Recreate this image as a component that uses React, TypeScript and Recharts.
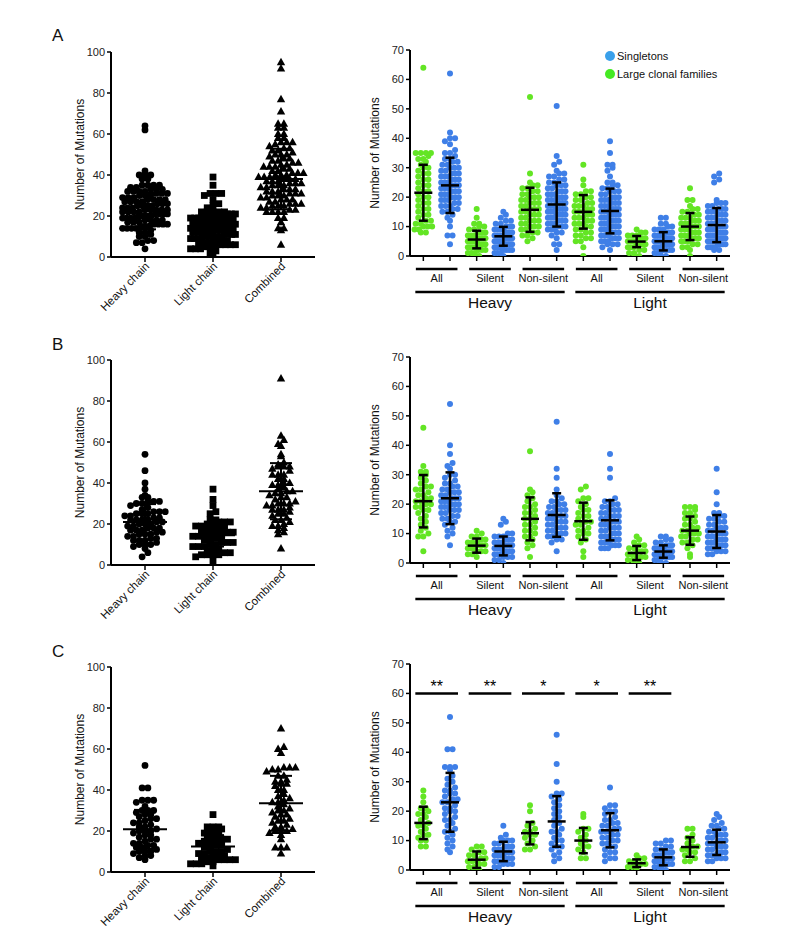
import React from 'react';
import { ScatterChart, Scatter, XAxis, YAxis, ReferenceLine, Legend } from 'recharts';

const FONT = '"Liberation Sans", Arial, Helvetica, sans-serif';
const GREEN = '#63e524';
const BLUE = '#3f7fe7';
const LEGEND_BLUE = '#3aa0ea';
const LEGEND_GREEN = '#45ea23';

// labels
const LEFT_CATEGORIES = ['Heavy chain', 'Light chain', 'Combined'];
const SUB_GROUPS = ['All', 'Silent', 'Non-silent', 'All', 'Silent', 'Non-silent'];
const CHAINS = ['Heavy', 'Light'];
const LEFT_TICKS = [0, 20, 40, 60, 80, 100];
const RIGHT_TICKS = [0, 10, 20, 30, 40, 50, 60, 70];
const SIG_LABELS_C = ['**', '**', '*', '*', '**'];
const SIG_LEVEL_C = 60;

// ---------- panel A, left (all sequences)
const heavyA = [4, 7, 7, 8, 8, 10, 10, 11, 12, 12, 13, 14, 14, 14, 14, 15, 15, 15, 16, 16, 16, 16, 17, 17, 17, 18, 18, 18, 18, 19, 19, 19, 19, 20, 20, 20, 20, 21, 21, 21, 21, 22, 22, 22, 22, 23, 23, 23, 23, 23, 24, 24, 24, 25, 25, 25, 25, 26, 26, 26, 27, 27, 27, 27, 28, 28, 28, 28, 29, 29, 29, 30, 30, 30, 31, 31, 31, 32, 32, 32, 32, 33, 33, 33, 34, 34, 35, 35, 35, 35, 38, 38, 40, 40, 40, 42, 62, 64];
const lightA = [0, 2, 3, 4, 4, 4, 5, 5, 5, 6, 6, 6, 6, 7, 7, 7, 8, 8, 8, 9, 9, 9, 9, 10, 10, 10, 10, 10, 11, 11, 11, 11, 12, 12, 12, 12, 13, 13, 13, 13, 14, 14, 14, 15, 15, 15, 15, 16, 16, 16, 16, 17, 17, 17, 17, 18, 18, 18, 18, 19, 19, 19, 19, 20, 20, 20, 20, 21, 21, 21, 21, 22, 22, 22, 22, 22, 24, 25, 26, 28, 30, 31, 31, 31, 35, 39];
const combinedA = [6, 13, 14, 14, 17, 19, 19, 22, 22, 22, 22, 23, 23, 24, 24, 25, 25, 25, 26, 26, 26, 27, 27, 28, 28, 28, 29, 29, 30, 30, 30, 31, 31, 31, 32, 32, 32, 33, 33, 33, 34, 34, 35, 35, 35, 36, 36, 36, 37, 37, 37, 38, 38, 38, 39, 39, 39, 40, 40, 40, 41, 41, 41, 42, 42, 43, 43, 44, 44, 44, 45, 45, 46, 46, 47, 47, 48, 48, 49, 50, 50, 50, 51, 52, 52, 53, 53, 54, 55, 56, 56, 56, 58, 58, 60, 60, 63, 63, 65, 65, 71, 77, 92, 95];
const leftMeansA = [22.5, 15, 38];
const leftSdsA = [9, 7, 14.8];

// ---------- panel B, left
const heavyB = [4, 6, 8, 9, 10, 10, 10, 11, 12, 12, 12, 13, 13, 14, 14, 15, 15, 15, 16, 16, 17, 17, 17, 18, 18, 18, 19, 19, 20, 20, 20, 21, 21, 22, 22, 22, 22, 23, 23, 24, 24, 25, 25, 25, 26, 26, 26, 27, 28, 29, 30, 30, 31, 31, 31, 33, 33, 34, 37, 40, 46, 54];
const lightB = [2, 4, 5, 5, 5, 5, 6, 6, 7, 8, 8, 9, 9, 9, 10, 10, 11, 11, 11, 12, 12, 13, 13, 14, 14, 14, 15, 15, 15, 16, 16, 17, 17, 17, 18, 18, 19, 19, 20, 20, 21, 21, 21, 22, 22, 25, 26, 29, 32, 37];
const combinedB = [8, 15, 16, 17, 18, 19, 19, 20, 21, 22, 22, 23, 24, 25, 25, 26, 27, 27, 27, 28, 29, 29, 30, 30, 30, 31, 32, 33, 33, 34, 35, 35, 36, 36, 37, 38, 39, 39, 40, 40, 42, 42, 44, 44, 44, 46, 47, 48, 48, 48, 49, 50, 53, 54, 58, 59, 61, 63, 91];
const leftMeansB = [21, 14.5, 36];
const leftSdsB = [8.7, 5.5, 13.7];

// ---------- panel C, left
const heavyC = [6, 7, 8, 8, 9, 10, 10, 10, 11, 12, 12, 13, 13, 14, 14, 15, 16, 16, 17, 18, 18, 19, 20, 20, 20, 21, 22, 22, 23, 24, 24, 25, 26, 26, 27, 28, 28, 29, 30, 30, 30, 32, 34, 35, 35, 35, 41, 41, 52];
const lightC = [3, 4, 4, 4, 5, 5, 6, 6, 6, 6, 7, 7, 8, 8, 8, 9, 9, 10, 10, 10, 11, 12, 12, 13, 13, 14, 15, 15, 16, 16, 16, 17, 18, 18, 19, 20, 20, 21, 22, 22, 22, 28];
const combinedC = [9, 12, 12, 12, 16, 18, 19, 20, 20, 20, 21, 22, 22, 23, 24, 25, 25, 26, 27, 28, 28, 29, 30, 30, 31, 32, 33, 34, 34, 35, 36, 37, 38, 40, 40, 42, 43, 43, 44, 44, 45, 47, 47, 49, 50, 50, 51, 51, 51, 58, 60, 61, 70];
const leftMeansC = [20.8, 12.5, 33.5];
const leftSdsC = [9.5, 5.5, 13.4];

// ---------- panel A, right (large clonal families vs singletons)
const largeA_HAll = [8, 8, 9, 9, 10, 10, 10, 11, 11, 12, 12, 13, 14, 14, 15, 16, 16, 17, 18, 18, 19, 20, 20, 21, 22, 22, 23, 24, 24, 25, 26, 26, 27, 28, 28, 29, 30, 30, 31, 32, 33, 33, 34, 35, 35, 35, 35, 64];
const singleA_HAll = [4, 7, 7, 10, 12, 13, 14, 15, 15, 16, 16, 17, 17, 17, 18, 18, 19, 19, 19, 20, 20, 20, 21, 21, 21, 22, 22, 22, 23, 23, 23, 24, 24, 24, 25, 25, 25, 26, 26, 26, 27, 27, 27, 28, 28, 28, 29, 29, 30, 30, 30, 31, 31, 32, 32, 33, 33, 34, 35, 35, 36, 38, 39, 40, 40, 42, 62];
const largeA_HSil = [0, 0, 1, 1, 1, 2, 2, 2, 3, 3, 3, 3, 4, 4, 4, 4, 5, 5, 5, 5, 5, 6, 6, 6, 6, 7, 7, 7, 8, 8, 8, 9, 9, 10, 10, 11, 11, 13, 16];
const singleA_HSil = [0, 1, 1, 1, 2, 2, 2, 2, 3, 3, 3, 3, 3, 4, 4, 4, 4, 4, 5, 5, 5, 5, 5, 6, 6, 6, 6, 6, 7, 7, 7, 7, 7, 8, 8, 8, 8, 9, 9, 9, 9, 10, 10, 10, 11, 11, 12, 12, 13, 14, 15];
const largeA_HNon = [5, 6, 7, 7, 8, 8, 9, 9, 10, 10, 10, 11, 11, 12, 12, 12, 13, 13, 14, 14, 14, 15, 15, 16, 16, 16, 17, 17, 18, 18, 18, 19, 19, 20, 20, 20, 21, 21, 22, 22, 23, 23, 24, 24, 25, 28, 54];
const singleA_HNon = [2, 4, 4, 6, 7, 8, 8, 9, 9, 9, 10, 10, 10, 11, 11, 11, 12, 12, 12, 13, 13, 13, 14, 14, 14, 14, 15, 15, 15, 16, 16, 16, 16, 17, 17, 17, 18, 18, 18, 18, 19, 19, 19, 20, 20, 20, 21, 21, 21, 22, 22, 22, 23, 23, 24, 24, 24, 25, 25, 26, 26, 27, 27, 28, 28, 29, 31, 32, 34, 51];
const largeA_LAll = [0, 3, 5, 5, 6, 6, 7, 7, 8, 8, 9, 9, 10, 10, 11, 11, 11, 12, 12, 13, 13, 13, 14, 14, 15, 15, 15, 16, 16, 17, 17, 17, 18, 18, 19, 19, 20, 20, 21, 21, 22, 22, 24, 26, 31];
const singleA_LAll = [2, 3, 4, 4, 4, 5, 5, 5, 6, 6, 6, 7, 7, 7, 8, 8, 8, 9, 9, 9, 10, 10, 10, 10, 11, 11, 11, 12, 12, 12, 12, 13, 13, 13, 14, 14, 14, 14, 15, 15, 15, 16, 16, 16, 16, 17, 17, 17, 18, 18, 18, 19, 19, 19, 20, 20, 20, 21, 21, 22, 22, 22, 23, 23, 24, 24, 25, 25, 27, 29, 30, 31, 31, 35, 39];
const largeA_LSil = [0, 0, 1, 1, 2, 2, 3, 3, 3, 4, 4, 4, 4, 5, 5, 5, 5, 6, 6, 6, 7, 7, 7, 8, 8, 9];
const singleA_LSil = [0, 0, 1, 1, 1, 2, 2, 2, 2, 3, 3, 3, 3, 4, 4, 4, 4, 4, 5, 5, 5, 5, 5, 6, 6, 6, 6, 7, 7, 7, 7, 8, 8, 8, 9, 9, 9, 10, 10, 11, 11, 13, 13];
const largeA_LNon = [0, 2, 3, 3, 4, 4, 5, 5, 5, 6, 6, 6, 7, 7, 7, 8, 8, 8, 9, 9, 9, 10, 10, 10, 11, 11, 11, 12, 12, 12, 13, 13, 13, 14, 14, 15, 15, 16, 16, 17, 19, 19, 23];
const singleA_LNon = [2, 2, 3, 3, 3, 3, 4, 4, 4, 4, 5, 5, 5, 5, 6, 6, 6, 6, 7, 7, 7, 7, 8, 8, 8, 8, 9, 9, 9, 9, 10, 10, 10, 10, 11, 11, 11, 12, 12, 12, 13, 13, 13, 14, 14, 14, 15, 15, 15, 16, 16, 16, 17, 17, 18, 18, 18, 19, 25, 26, 27, 28];
const rightMeansA = [21.5, 24, 5.6, 6.7, 15.7, 17.5, 15, 15.3, 4.9, 5, 10, 10.5];
const rightSdsA = [9.5, 9.4, 3, 3.2, 7.5, 7.5, 5.7, 7.6, 1.9, 3.1, 4.6, 5.8];

// ---------- panel B, right
const largeB_HAll = [4, 9, 9, 10, 11, 12, 13, 14, 15, 16, 17, 18, 18, 19, 19, 20, 20, 21, 21, 22, 22, 23, 23, 24, 25, 25, 26, 26, 27, 28, 29, 30, 31, 31, 33, 46];
const singleB_HAll = [6, 9, 10, 11, 12, 13, 14, 14, 15, 15, 16, 16, 17, 17, 18, 18, 18, 19, 19, 19, 20, 20, 20, 21, 21, 21, 22, 22, 22, 23, 23, 24, 24, 24, 25, 25, 26, 26, 27, 27, 28, 29, 30, 30, 32, 33, 34, 37, 40, 54];
const largeB_HSil = [2, 3, 3, 4, 4, 4, 5, 5, 5, 6, 6, 6, 6, 7, 7, 7, 8, 8, 9, 9, 10, 11];
const singleB_HSil = [0, 1, 1, 2, 2, 2, 3, 3, 3, 4, 4, 4, 4, 5, 5, 5, 5, 6, 6, 6, 6, 7, 7, 7, 8, 8, 8, 9, 9, 9, 10, 10, 13, 14, 15];
const largeB_HNon = [2, 5, 6, 7, 8, 9, 9, 10, 11, 11, 12, 13, 13, 14, 15, 15, 16, 17, 17, 18, 19, 19, 20, 21, 22, 23, 24, 25, 38];
const singleB_HNon = [4, 7, 8, 8, 9, 9, 10, 10, 10, 11, 11, 12, 12, 12, 13, 13, 14, 14, 14, 15, 15, 16, 16, 16, 17, 17, 18, 18, 18, 19, 19, 20, 20, 21, 21, 22, 23, 25, 29, 32, 48];
const largeB_LAll = [2, 4, 7, 8, 9, 10, 10, 11, 11, 12, 13, 13, 14, 14, 15, 16, 16, 17, 18, 18, 19, 20, 21, 22, 22, 25, 26];
const singleB_LAll = [5, 5, 5, 6, 6, 6, 7, 7, 7, 8, 8, 8, 9, 9, 9, 10, 10, 10, 11, 11, 12, 12, 12, 13, 13, 13, 14, 14, 14, 15, 15, 16, 16, 16, 17, 17, 18, 18, 18, 19, 19, 20, 20, 21, 21, 22, 29, 32, 37];
const largeB_LSil = [0, 0, 1, 1, 2, 2, 2, 3, 3, 3, 4, 4, 4, 5, 5, 6, 6, 7, 8, 9];
const singleB_LSil = [0, 0, 1, 1, 1, 2, 2, 2, 2, 3, 3, 3, 3, 4, 4, 4, 4, 4, 5, 5, 5, 5, 6, 6, 6, 7, 7, 8, 8, 9, 9];
const largeB_LNon = [2, 3, 5, 6, 7, 7, 8, 8, 9, 9, 10, 10, 10, 11, 11, 12, 12, 13, 13, 14, 15, 15, 16, 17, 17, 18, 19, 19, 19];
const singleB_LNon = [3, 3, 4, 4, 4, 5, 5, 5, 6, 6, 6, 7, 7, 7, 8, 8, 8, 8, 9, 9, 9, 10, 10, 10, 11, 11, 12, 12, 12, 13, 13, 14, 14, 15, 15, 16, 16, 17, 17, 20, 24, 32];
const rightMeansB = [21, 22, 5.9, 5.8, 15, 16.3, 14.2, 14.5, 3.4, 3.9, 11, 10.7];
const rightSdsB = [8.9, 8.8, 2.4, 3.2, 7.3, 7.4, 6.3, 6.8, 2.4, 2.1, 4.8, 5.6];

// ---------- panel C, right
const largeC_HAll = [8, 8, 10, 10, 11, 12, 12, 13, 14, 15, 15, 16, 17, 18, 19, 19, 20, 21, 21, 23, 25, 27];
const singleC_HAll = [6, 7, 8, 9, 10, 11, 12, 13, 13, 14, 15, 16, 17, 17, 18, 19, 20, 20, 21, 21, 22, 23, 23, 24, 24, 25, 26, 26, 27, 27, 28, 29, 30, 31, 32, 34, 35, 35, 35, 41, 41, 52];
const largeC_HSil = [0, 0, 1, 1, 2, 2, 3, 3, 3, 4, 4, 5, 5, 6, 6, 7, 8, 8];
const singleC_HSil = [1, 1, 2, 2, 2, 3, 3, 3, 4, 4, 4, 5, 5, 5, 5, 6, 6, 6, 7, 7, 7, 8, 8, 8, 9, 9, 10, 10, 10, 11, 12, 15];
const largeC_HNon = [7, 7, 8, 9, 10, 11, 12, 12, 13, 13, 14, 15, 16, 20, 22];
const singleC_HNon = [3, 4, 5, 6, 7, 8, 8, 9, 10, 10, 11, 12, 13, 13, 14, 15, 16, 17, 18, 19, 20, 21, 22, 23, 24, 25, 26, 26, 30, 36, 46];
const largeC_LAll = [4, 4, 6, 7, 8, 8, 9, 10, 11, 12, 13, 14, 14, 18, 19];
const singleC_LAll = [3, 4, 4, 5, 6, 6, 7, 8, 8, 9, 9, 10, 10, 11, 11, 12, 12, 13, 13, 13, 14, 14, 15, 15, 16, 16, 17, 17, 18, 19, 20, 20, 21, 22, 22, 28];
const largeC_LSil = [0, 1, 1, 2, 2, 2, 3, 3, 4, 4, 5];
const singleC_LSil = [0, 0, 1, 1, 1, 2, 2, 2, 3, 3, 3, 4, 4, 4, 4, 5, 5, 5, 6, 6, 6, 7, 7, 8, 8, 9, 9, 10, 10];
const largeC_LNon = [3, 3, 4, 5, 6, 6, 7, 7, 8, 8, 9, 10, 11, 12, 14, 14];
const singleC_LNon = [3, 3, 4, 4, 4, 5, 5, 5, 6, 6, 6, 7, 7, 8, 8, 8, 9, 9, 9, 10, 10, 10, 11, 11, 12, 12, 12, 13, 13, 14, 14, 15, 15, 16, 17, 18, 19];
const rightMeansC = [16, 23, 3.5, 6.3, 12.5, 16.5, 10, 13.5, 2.3, 4.3, 7.8, 9.4];
const rightSdsC = [5.5, 10, 2.8, 3.3, 3.8, 8.6, 4.3, 5.8, 1.3, 2.7, 3.3, 4.3];

type Pt = { x: number; y: number };

// column scatter layout: values that fall into the same row are spread sideways
const swarm = (vals: number[], center: number, bin: number, step: number, maxHalf: number): Pt[] => {
  const rows = new Map<number, number[]>();
  [...vals].sort((a, b) => a - b).forEach((v) => {
    const key = Math.round(v / bin);
    if (!rows.has(key)) rows.set(key, []);
    rows.get(key)!.push(v);
  });
  const out: Pt[] = [];
  rows.forEach((row) => {
    const n = row.length;
    const s = n > 1 ? Math.min(step, (2 * maxHalf) / (n - 1)) : 0;
    row.forEach((v, k) => out.push({ x: center + (k - (n - 1) / 2) * s, y: v }));
  });
  return out;
};

// mean +/- SD as three points joined by the scatter line
const meanSd = (center: number, mean: number, sd: number) => [
  { x: center, y: mean - sd, kind: 'cap' },
  { x: center, y: mean, kind: 'mean' },
  { x: center, y: mean + sd, kind: 'cap' },
];

const circle = (r: number, color: string) => (p: any) => <circle cx={p.cx} cy={p.cy} r={r} fill={color} />;
const square = (p: any) => <rect x={p.cx - 3.4} y={p.cy - 3.4} width={6.8} height={6.8} fill="#000" />;
const triangle = (p: any) => (
  <polygon points={`${p.cx},${p.cy - 4.5} ${p.cx - 4.2},${p.cy + 3} ${p.cx + 4.2},${p.cy + 3}`} fill="#000" />
);
const statMark = (meanHalf: number, capHalf: number, sw: number) => (p: any) => {
  const half = p.payload.kind === 'mean' ? meanHalf : capHalf;
  return <line x1={p.cx - half} x2={p.cx + half} y1={p.cy} y2={p.cy} stroke="#000" strokeWidth={sw} />;
};

const yLabel = (dx: number) => (props: any) => {
  const vb = props.viewBox;
  const x = vb.x + dx;
  const y = vb.y + vb.height / 2;
  return (
    <text x={x} y={y} transform={`rotate(-90 ${x} ${y})`} textAnchor="middle" dominantBaseline="central"
      fontSize={12} fontFamily={FONT} fill="#111">
      Number of Mutations
    </text>
  );
};

const LeftTick = (p: any) => {
  const tx = p.x + 5;
  const ty = p.y + 3;
  return (
    <text x={tx} y={ty} textAnchor="end" transform={`rotate(-45 ${tx} ${ty})`} fontSize={11.5} fontFamily={FONT} fill="#111">
      {LEFT_CATEGORIES[Math.floor(p.payload.value)]}
    </text>
  );
};

// right panels: 12 columns over a 320px wide plot
const RW = 380;
const RH = 290;
const R_YAXIS = 50;
const R_MARGIN = { top: 12, right: 10, bottom: 0, left: 0 };
const UNIT = (RW - R_MARGIN.right - R_YAXIS) / 12;

const RightTick = (p: any) => {
  const { x, y, index } = p;
  if (index % 2 === 0) return <g />;
  const axisY = y - 5;
  const cx = x - UNIT / 2;
  const chainX = cx - 2 * UNIT;
  return (
    <g>
      <line x1={cx - 0.78 * UNIT} x2={cx + 0.78 * UNIT} y1={axisY + 13} y2={axisY + 13} stroke="#000" strokeWidth={2.5} />
      <text x={cx} y={axisY + 26} textAnchor="middle" fontSize={11} fontFamily={FONT} fill="#111">
        {SUB_GROUPS[(index - 1) / 2]}
      </text>
      {index % 6 === 5 && (
        <g>
          <line x1={chainX - 2.8 * UNIT} x2={chainX + 2.8 * UNIT} y1={axisY + 36} y2={axisY + 36} stroke="#000" strokeWidth={2.5} />
          <text x={chainX} y={axisY + 52} textAnchor="middle" fontSize={15.5} fontFamily={FONT} fill="#111">
            {CHAINS[(index - 5) / 6]}
          </text>
        </g>
      )}
    </g>
  );
};

const LegendBox = () => (
  <div style={{ fontFamily: FONT, fontSize: 11, color: '#111', lineHeight: '18px' }}>
    {[['Singletons', LEGEND_BLUE], ['Large clonal families', LEGEND_GREEN]].map(([t, c]) => (
      <div key={t} style={{ display: 'flex', alignItems: 'center', height: 18 }}>
        <span style={{ display: 'inline-block', width: 10, height: 10, borderRadius: 5, background: c, marginRight: 2 }} />
        {t}
      </div>
    ))}
  </div>
);

const axisLine = { stroke: '#000', strokeWidth: 2 };
const tickLine = { stroke: '#000', strokeWidth: 1.5 };
const tickText = { fontSize: 11, fill: '#222', fontFamily: FONT };

interface LeftProps { top: number; groups: number[][]; means: number[]; sds: number[] }

const LeftPanel: React.FC<LeftProps> = ({ top, groups, means, sds }) => {
  const shapes = [circle(3.4, '#000'), square, triangle];
  return (
    <div style={{ position: 'absolute', left: 40, top, width: 290, height: 290 }}>
      <ScatterChart width={290} height={290} margin={{ top: 12, right: 15, bottom: 0, left: 0 }}>
        <XAxis type="number" dataKey="x" domain={[0, 3]} ticks={[0.5, 1.5, 2.5]} interval={0} height={73}
          tick={<LeftTick />} tickSize={5} axisLine={axisLine} tickLine={tickLine} allowDataOverflow />
        <YAxis type="number" dataKey="y" domain={[0, 100]} ticks={LEFT_TICKS} interval={0} width={71} tickSize={4}
          tick={tickText} axisLine={axisLine} tickLine={tickLine} allowDataOverflow label={yLabel(40)} />
        {groups.map((g, i) => (
          <Scatter key={i} data={swarm(g, i + 0.5, 2.5, 0.085, 0.33)} shape={shapes[i]} isAnimationActive={false} />
        ))}
        {means.map((m, i) => (
          <Scatter key={`s${i}`} data={meanSd(i + 0.5, m, sds[i])} line={{ stroke: '#000', strokeWidth: 2 }}
            shape={statMark(22, 11, 2)} isAnimationActive={false} />
        ))}
      </ScatterChart>
    </div>
  );
};

interface RightProps { top: number; columns: number[][]; means: number[]; sds: number[]; legend?: boolean; sig?: string[] }

const RightPanel: React.FC<RightProps> = ({ top, columns, means, sds, legend, sig }) => (
  <div style={{ position: 'absolute', left: 360, top, width: RW, height: RH }}>
    <ScatterChart width={RW} height={RH} margin={R_MARGIN}>
      <XAxis type="number" dataKey="x" domain={[0, 12]} ticks={columns.map((_, i) => i + 0.5)} interval={0} height={72}
        tick={<RightTick />} tickSize={5} tickMargin={0} axisLine={axisLine} tickLine={tickLine} allowDataOverflow />
      <YAxis type="number" dataKey="y" domain={[0, 70]} ticks={RIGHT_TICKS} interval={0} width={R_YAXIS} tickSize={4}
        tick={tickText} axisLine={axisLine} tickLine={tickLine} allowDataOverflow label={yLabel(15)} />
      {legend && (
        <Legend layout="vertical" align="center" verticalAlign="middle" content={<LegendBox />}
          wrapperStyle={{ left: 245, top: 9, width: 'auto' }} />
      )}
      {columns.map((c, i) => (
        <Scatter key={i} data={swarm(c, i + 0.5, 2, 0.19, 0.33)} shape={circle(3, i % 2 === 0 ? GREEN : BLUE)}
          isAnimationActive={false} />
      ))}
      {means.map((m, i) => (
        <Scatter key={`s${i}`} data={meanSd(i + 0.5, m, sds[i])} line={{ stroke: '#000', strokeWidth: 2.5 }}
          shape={statMark(9, 4.5, 2.5)} isAnimationActive={false} />
      ))}
      {sig && sig.map((s, i) => (
        <ReferenceLine key={`g${i}`} segment={[{ x: 2 * i + 0.2, y: SIG_LEVEL_C }, { x: 2 * i + 1.8, y: SIG_LEVEL_C }]}
          stroke="#000" strokeWidth={2.5}
          label={{ value: s, position: 'top', offset: 1, fontSize: 16, fill: '#000', fontFamily: FONT }} />
      ))}
    </ScatterChart>
  </div>
);

const Letter = ({ top, text }: { top: number; text: string }) => (
  <div style={{ position: 'absolute', left: 52, top, fontFamily: FONT, fontSize: 17, color: '#111' }}>{text}</div>
);

export default function App() {
  return (
    <div style={{ position: 'relative', width: 800, height: 941, background: '#fff' }}>
      <style>{'body{margin:0}'}</style>
      <Letter top={26} text="A" />
      <Letter top={335} text="B" />
      <Letter top={642} text="C" />
      <LeftPanel top={40} groups={[heavyA, lightA, combinedA]} means={leftMeansA} sds={leftSdsA} />
      <LeftPanel top={348} groups={[heavyB, lightB, combinedB]} means={leftMeansB} sds={leftSdsB} />
      <LeftPanel top={655} groups={[heavyC, lightC, combinedC]} means={leftMeansC} sds={leftSdsC} />
      <RightPanel top={38} legend means={rightMeansA} sds={rightSdsA}
        columns={[largeA_HAll, singleA_HAll, largeA_HSil, singleA_HSil, largeA_HNon, singleA_HNon,
          largeA_LAll, singleA_LAll, largeA_LSil, singleA_LSil, largeA_LNon, singleA_LNon]} />
      <RightPanel top={345} means={rightMeansB} sds={rightSdsB}
        columns={[largeB_HAll, singleB_HAll, largeB_HSil, singleB_HSil, largeB_HNon, singleB_HNon,
          largeB_LAll, singleB_LAll, largeB_LSil, singleB_LSil, largeB_LNon, singleB_LNon]} />
      <RightPanel top={652} means={rightMeansC} sds={rightSdsC} sig={SIG_LABELS_C}
        columns={[largeC_HAll, singleC_HAll, largeC_HSil, singleC_HSil, largeC_HNon, singleC_HNon,
          largeC_LAll, singleC_LAll, largeC_LSil, singleC_LSil, largeC_LNon, singleC_LNon]} />
    </div>
  );
}
